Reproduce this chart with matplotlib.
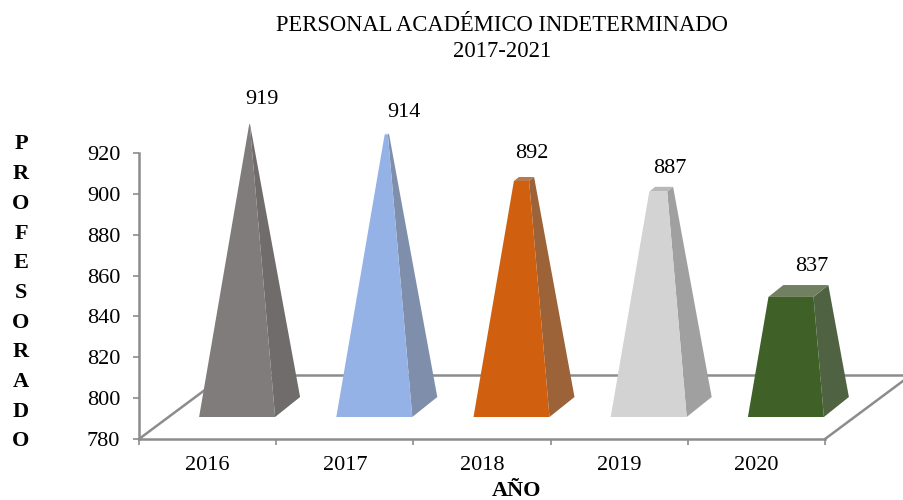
import matplotlib
matplotlib.use("Agg")
import matplotlib.pyplot as plt
from matplotlib.patches import Polygon
import numpy as np

plt.rcParams['font.family'] = ['Liberation Serif', 'DejaVu Serif']

# Data
years = ['2016', '2017', '2018', '2019', '2020']
values = [919, 914, 892, 887, 837]
y_ticks = [780, 800, 820, 840, 860, 880, 900, 920]
title_lines = ['PERSONAL ACADÉMICO INDETERMINADO', '2017-2021']
y_title = 'PROFESORADO'
x_title = 'AÑO'

# Style
front_cols = ['#7f7c7b', '#95b2e6', '#d06010', '#d3d3d3', '#3f6127']
side_cols = ['#6f6c6b', '#7f8fab', '#9c6338', '#a0a0a0', '#4f6342']
top_cols = ['#8f8c8b', '#a5bde8', '#b9794a', '#b8b8b8', '#708061']
label_off_px = [(12, 24), (17, 21), (5, 23), (6, 18), (6, 19)]
LINE = '#8c8c8c'
FS = 16

W, H = 904, 500
fig = plt.figure(figsize=(W / 100, H / 100), dpi=100, facecolor='white')
L, R, T, B = 139, 825, 153, 439
ax = fig.add_axes([L / W, 1 - B / H, (R - L) / W, (B - T) / H])
ax.set_xlim(-0.5, 4.5)
ax.set_ylim(y_ticks[0], y_ticks[-1])
ax.patch.set_alpha(0)

pxx = (R - L) / len(years)             # px per category
pxy = (B - T) / (y_ticks[-1] - y_ticks[0])  # px per value unit

def dx(p):
    return p / pxx

def dy(p):
    return p / pxy

# Floor
floor_dx, floor_dy = dx(86), dy(64)
x0, x1 = ax.get_xlim()
v0 = y_ticks[0]
ax.plot([x0, x0 + floor_dx], [v0, v0 + floor_dy], color=LINE, lw=1.8, zorder=1, clip_on=False)
ax.plot([x1, x1 + floor_dx], [v0, v0 + floor_dy], color=LINE, lw=1.8, zorder=1, clip_on=False)
ax.plot([x0 + floor_dx, x1 + floor_dx], [v0 + floor_dy] * 2, color=LINE, lw=1.8, zorder=1, clip_on=False)

# Pyramids
span = y_ticks[-1] - y_ticks[0]
for i, v in enumerate(values):
    t = (v - v0) / span
    fx = i + dx(29.5)
    hw = dx(38)
    fy = v0 + dy(22)
    bx = fx + dx(25)
    by = fy + dy(20)
    ax_x = fx + dx(12.5)
    ax_y = v0 + dy(317)
    def lerp(p):
        return (p[0] + t * (ax_x - p[0]), p[1] + t * (ax_y - p[1]))
    fl, fr = (fx - hw, fy), (fx + hw, fy)
    bl, br = (bx - hw, by), (bx + hw, by)
    tfl, tfr, tbl, tbr = lerp(fl), lerp(fr), lerp(bl), lerp(br)
    ax.add_patch(Polygon([fr, br, tbr, tfr], closed=True, fc=side_cols[i], ec='none', zorder=3, clip_on=False))
    ax.add_patch(Polygon([tfl, tfr, tbr, tbl], closed=True, fc=top_cols[i], ec='none', zorder=3, clip_on=False))
    ax.add_patch(Polygon([fl, fr, tfr, tfl], closed=True, fc=front_cols[i], ec='none', zorder=4, clip_on=False))
    ox, oy = label_off_px[i]
    ax.text((tbl[0] + tbr[0]) / 2 + dx(ox), tbl[1] + dy(oy), str(v), ha='center', va='center',
            fontsize=FS, color='black', zorder=6, clip_on=False)

# Axes
for s in ['top', 'right']:
    ax.spines[s].set_visible(False)
for s in ['left', 'bottom']:
    ax.spines[s].set_color(LINE)
    ax.spines[s].set_linewidth(1.8)
    ax.spines[s].set_zorder(2)
ax.set_yticks(y_ticks)
ax.set_yticklabels([str(t) for t in y_ticks], fontsize=FS)
ax.set_xticks(np.arange(-0.5, 5, 1))
ax.set_xticklabels([])
ax.set_xticks(np.arange(5), labels=years, minor=True, fontsize=FS)
ax.tick_params(axis='x', which='major', color=LINE, length=4.5, width=1.2)
ax.tick_params(axis='x', which='minor', length=0, pad=12.5)
ax.tick_params(axis='y', color=LINE, length=4.5, width=1.2, pad=9)

# Titles
fig.text(502 / W, 1 - 25.5 / H, title_lines[0], ha='center', va='center', fontsize=16.3)
fig.text(502 / W, 1 - 51.5 / H, title_lines[1], ha='center', va='center', fontsize=16.3)
fig.text(517 / W, 1 - 491 / H, x_title, ha='center', va='center', fontsize=FS, fontweight='bold')
for j, ch in enumerate(y_title):
    fig.text(21 / W, 1 - (144.5 + j * 29.7) / H, ch, ha='center', va='center', fontsize=FS, fontweight='bold')

fig.savefig('out.png', dpi=100)
